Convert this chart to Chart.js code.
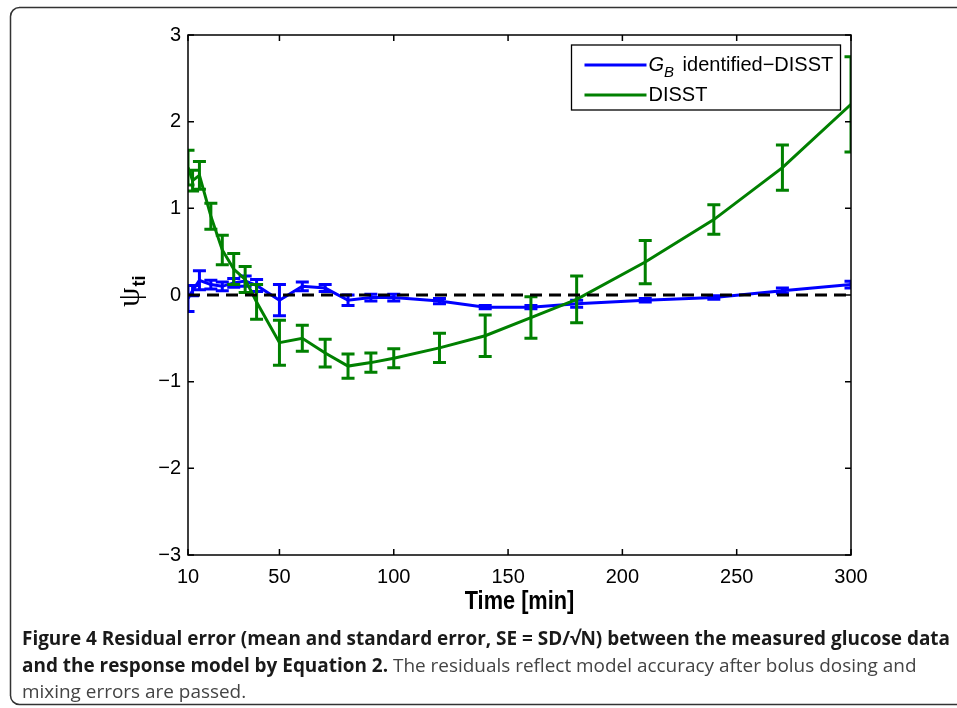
<!DOCTYPE html>
<html>
<head>
<meta charset="utf-8">
<script src="https://cdn.jsdelivr.net/npm/chart.js@4"></script>
<style>
  html, body { margin:0; padding:0; background:#fff; overflow:hidden; }
  #wrap { position:relative; width:957px; height:708px; overflow:hidden; }
  canvas { position:absolute; left:0; top:0; }
  #caption { position:absolute; left:22px; top:625px; font-family:"Open Sans", sans-serif;
             font-size:19px; line-height:26.5px; color:#444; }
  #caption div { white-space:nowrap; transform-origin:0 0; }
  #caption b { color:#1a1a1a; }
</style>
</head>
<body>
<div id="wrap">
  <canvas id="chart" width="957" height="708"></canvas>
  <div id="caption">
    <div><b>Figure 4 Residual error (mean and standard error, SE = SD/√N) between the measured glucose data</b></div>
    <div><b>and the response model by Equation 2.</b> The residuals reflect model accuracy after bolus dosing and</div>
    <div>mixing errors are passed.</div>
  </div>
</div>
<script>
// ——— DATI ———
const times = [10, 12, 15, 20, 25, 30, 35, 40, 50, 60, 70, 80, 90, 100, 120, 140, 160, 180, 210, 240, 270, 300];

// G_B identified-DISST
const gbMean = [-0.04, 0.05, 0.17, 0.12, 0.10, 0.14, 0.16, 0.11, -0.06, 0.10, 0.08, -0.06, -0.03, -0.03, -0.07, -0.14, -0.14, -0.10, -0.06, -0.03, 0.05, 0.12];
const gbErr  = [0.15, 0.06, 0.11, 0.05, 0.05, 0.05, 0.06, 0.07, 0.18, 0.05, 0.04, 0.06, 0.04, 0.04, 0.03, 0.02, 0.02, 0.04, 0.02, 0.02, 0.03, 0.04];

// DISST
const disstMean = [1.47, 1.32, 1.38, 0.91, 0.52, 0.30, 0.18, -0.08, -0.55, -0.50, -0.67, -0.82, -0.78, -0.73, -0.61, -0.47, -0.26, -0.05, 0.38, 0.87, 1.47, 2.20];
const disstErr  = [0.20, 0.12, 0.16, 0.15, 0.17, 0.18, 0.15, 0.20, 0.26, 0.15, 0.16, 0.14, 0.11, 0.11, 0.17, 0.24, 0.24, 0.27, 0.25, 0.17, 0.26, 0.55];

const xTicks = [10, 50, 100, 150, 200, 250, 300];
const yTicks = [-3, -2, -1, 0, 1, 2, 3];
const zeroLine = [0, 0];

const BLUE = '#0000ff';
const GREEN = '#008000';
const FONT = '"Liberation Sans", Arial, sans-serif';

const toPts = (xs, ys) => xs.map((x, i) => ({ x, y: ys[i] }));

// ——— PLUGIN: cornice, barre d'errore, box, tacche, titoli, legenda ———
const errBars = {
  id: 'errBars',
  beforeDraw(chart) {
    // cornice arrotondata della figura (aperta a destra)
    const ctx = chart.ctx;
    ctx.save();
    ctx.strokeStyle = '#333';
    ctx.lineWidth = 1.5;
    ctx.beginPath();
    ctx.moveTo(980, 7.5);
    ctx.lineTo(19, 7.5);
    ctx.arcTo(10.5, 7.5, 10.5, 16, 9);
    ctx.lineTo(10.5, 696);
    ctx.arcTo(10.5, 704.5, 19, 704.5, 9);
    ctx.lineTo(980, 704.5);
    ctx.stroke();
    ctx.restore();
  },
  afterDatasetDraw(chart, args) {
    const ds = chart.data.datasets[args.index];
    if (!ds.errors) return;
    const { ctx, chartArea: a, scales: { x, y } } = chart;
    ctx.save();
    ctx.beginPath();
    ctx.rect(a.left, a.top, a.right - a.left, a.bottom - a.top);
    ctx.clip();
    ctx.strokeStyle = ds.borderColor;
    ctx.lineWidth = 3;
    ds.data.forEach((p, i) => {
      const e = ds.errors[i];
      const px = x.getPixelForValue(p.x);
      const y1 = y.getPixelForValue(p.y + e);
      const y2 = y.getPixelForValue(p.y - e);
      ctx.beginPath();
      ctx.moveTo(px, y1); ctx.lineTo(px, y2);
      ctx.moveTo(px - 6.5, y1); ctx.lineTo(px + 6.5, y1);
      ctx.moveTo(px - 6.5, y2); ctx.lineTo(px + 6.5, y2);
      ctx.stroke();
    });
    ctx.restore();
  },
  afterDraw(chart) {
    const { ctx, chartArea: a, scales: { x, y } } = chart;
    ctx.save();
    ctx.strokeStyle = '#000';
    ctx.lineWidth = 1.5;
    ctx.strokeRect(a.left, a.top, a.right - a.left, a.bottom - a.top);
    ctx.beginPath();
    xTicks.forEach(t => {
      const px = x.getPixelForValue(t);
      ctx.moveTo(px, a.bottom); ctx.lineTo(px, a.bottom - 6);
      ctx.moveTo(px, a.top); ctx.lineTo(px, a.top + 6);
    });
    yTicks.forEach(t => {
      const py = y.getPixelForValue(t);
      ctx.moveTo(a.left, py); ctx.lineTo(a.left + 6, py);
      ctx.moveTo(a.right, py); ctx.lineTo(a.right - 6, py);
    });
    ctx.stroke();

    // titolo asse x
    ctx.fillStyle = '#000';
    ctx.textAlign = 'center';
    ctx.textBaseline = 'middle';
    ctx.save();
    ctx.translate((a.left + a.right) / 2, a.bottom + 47);
    ctx.scale(0.87, 1);
    ctx.font = 'bold 25px ' + FONT;
    ctx.fillText('Time [min]', 0, 0);
    ctx.restore();

    // titolo asse y: psi_ti
    ctx.save();
    ctx.translate(139, (a.top + a.bottom) / 2 + 12);
    ctx.rotate(-Math.PI / 2);
    ctx.textAlign = 'left';
    ctx.textBaseline = 'alphabetic';
    ctx.font = '31px "Liberation Serif", serif';
    ctx.fillText('ψ', 0, 0);
    const w = ctx.measureText('ψ').width;
    ctx.font = 'bold 18px ' + FONT;
    ctx.fillText('ti', w + 1, 6);
    ctx.restore();

    // legenda
    const lx = 571.5, ly = 45, lw = 269, lh = 65;
    ctx.fillStyle = '#fff';
    ctx.fillRect(lx, ly, lw, lh);
    ctx.lineWidth = 1.3;
    ctx.strokeStyle = '#000';
    ctx.strokeRect(lx, ly, lw, lh);
    const items = chart.data.datasets.filter(d => d.errors);
    items.forEach((d, i) => {
      const yy = ly + 20 + i * 30;
      ctx.strokeStyle = d.borderColor;
      ctx.lineWidth = 3;
      ctx.beginPath();
      ctx.moveTo(lx + 13, yy); ctx.lineTo(lx + 75, yy);
      ctx.stroke();
      ctx.fillStyle = '#000';
      ctx.textAlign = 'left';
      ctx.textBaseline = 'middle';
      let tx = lx + 77;
      if (d.label.startsWith('G_B')) {
        ctx.font = 'italic 20px ' + FONT;
        ctx.fillText('G', tx, yy);
        tx += ctx.measureText('G').width;
        ctx.font = 'italic 15px ' + FONT;
        ctx.fillText('B', tx, yy + 8);
        tx += ctx.measureText('B').width + 3;
        ctx.font = '20px ' + FONT;
        ctx.fillText(d.label.slice(3), tx, yy);
      } else {
        ctx.font = '20px ' + FONT;
        ctx.fillText(d.label, tx, yy);
      }
    });
    ctx.restore();
  }
};

new Chart(document.getElementById('chart'), {
  type: 'line',
  data: {
    datasets: [
      { label: 'zero', data: toPts([10, 300], zeroLine), borderColor: '#000', borderWidth: 3,
        borderDash: [12, 7], pointRadius: 0, order: 0 },
      { label: 'G_B identified\u2212DISST', data: toPts(times, gbMean), errors: gbErr, borderColor: BLUE,
        borderWidth: 3, pointRadius: 0, tension: 0, order: 2 },
      { label: 'DISST', data: toPts(times, disstMean), errors: disstErr, borderColor: GREEN,
        borderWidth: 3, pointRadius: 0, tension: 0, order: 1 }
    ]
  },
  options: {
    responsive: false,
    animation: false,
    layout: { padding: { left: 108, right: 106, top: 35, bottom: 103 } },
    plugins: { legend: { display: false }, tooltip: { enabled: false } },
    scales: {
      x: {
        type: 'linear', min: 10, max: 300,
        afterBuildTicks: s => { s.ticks = xTicks.map(v => ({ value: v })); },
        afterFit: s => { s.height = 50; },
        grid: { display: false, drawTicks: false },
        border: { display: false },
        ticks: { padding: 10, color: '#000', font: { family: FONT, size: 20 }, maxRotation: 0 }
      },
      y: {
        min: -3, max: 3,
        afterBuildTicks: s => { s.ticks = yTicks.map(v => ({ value: v })); },
        afterFit: s => { s.width = 80; },
        grid: { display: false, drawTicks: false },
        border: { display: false },
        ticks: { padding: 7, color: '#000', font: { family: FONT, size: 20 },
                 callback: v => String(v).replace('-', '\u2212') }
      }
    }
  },
  plugins: [errBars]
});

// adatta la didascalia alla larghezza del riferimento
const lines = document.querySelectorAll('#caption div');
const k = 928 / lines[0].getBoundingClientRect().width;
lines.forEach(l => { l.style.transform = 'scaleX(' + k + ')'; });
</script>
</body>
</html>
